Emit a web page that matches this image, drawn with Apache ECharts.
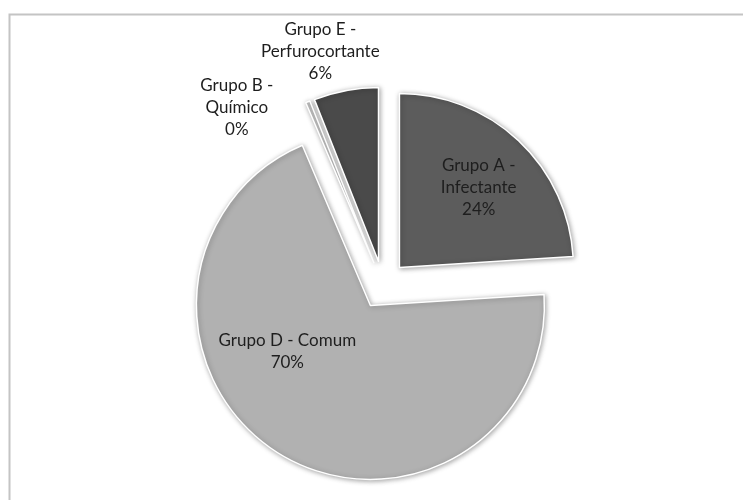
<!DOCTYPE html>
<html>
<head>
<meta charset="utf-8">
<script src="https://cdn.jsdelivr.net/npm/echarts@6/dist/echarts.min.js"></script>
<style>
  html, body { margin: 0; padding: 0; background: #fff; }
  #chart { width: 743px; height: 500px; }
</style>
</head>
<body>
<div id="chart"></div>
<script>
// Waste groups and their shares (percent)
const categories = ['Grupo A -\nInfectante', 'Grupo D - Comum', 'Grupo B -\nQuímico', 'Grupo E -\nPerfurocortante'];
const shares = [24.0, 69.6, 0.4, 6.0];
const sliceColors = ['#5c5c5c', '#b1b1b1', '#c8c8c8', '#4a4a4a'];

const chart = echarts.init(document.getElementById('chart'));

const CX = 383, CY = 285, R = 174, EXPLODE = 24;

// desired label centre (relative to pie centre, in units of the radius)
const labelAnchor = [
  [0.55, -0.56],
  [-0.55, 0.38],
  [-0.84, -1.02],
  [-0.36, -1.34]
];

// mid angle of each slice (clockwise from 12 o'clock), used to undo the explode shift
const total = shares.reduce((s, v) => s + v, 0);
const midAngles = [];
shares.reduce((acc, v) => { midAngles.push((acc + v / 2) / total * 2 * Math.PI); return acc + v; }, 0);

chart.setOption({
  animation: false,
  backgroundColor: '#ffffff',
  graphic: [{
    type: 'rect',
    shape: { x: 9.5, y: 14.5, width: 800, height: 600 },
    style: { fill: 'none', stroke: '#c4c4c4', lineWidth: 2 },
    silent: true,
    z: -10
  }],
  series: [{
    type: 'pie',
    center: [CX, CY],
    radius: R,
    startAngle: 90,
    clockwise: true,
    selectedMode: 'multiple',
    selectedOffset: EXPLODE,
    avoidLabelOverlap: false,
    itemStyle: {
      borderColor: '#ffffff',
      borderWidth: 1.5,
      shadowBlur: 5,
      shadowColor: 'rgba(0,0,0,0.35)',
      shadowOffsetX: 1,
      shadowOffsetY: 1
    },
    label: {
      show: true,
      position: 'inside',
      formatter: p => p.name + '\n' + Math.round(p.percent) + '%',
      fontFamily: 'Lato, sans-serif',
      fontSize: 17,
      lineHeight: 22,
      color: '#1e1e1e',
      align: 'center'
    },
    labelLine: { show: false },
    labelLayout: function (params) {
      const i = params.dataIndex;
      const a = labelAnchor[i];
      const r = params.labelRect;
      const ox = Math.sin(midAngles[i]) * EXPLODE;
      const oy = -Math.cos(midAngles[i]) * EXPLODE;
      const tx = CX + a[0] * R - ox, ty = CY + a[1] * R - oy;
      return { dx: tx - (r.x + r.width / 2), dy: ty - (r.y + r.height / 2) };
    },
    data: categories.map((name, i) => ({
      name: name,
      value: shares[i],
      selected: true,
      itemStyle: { color: sliceColors[i] }
    }))
  }]
});
</script>
</body>
</html>
